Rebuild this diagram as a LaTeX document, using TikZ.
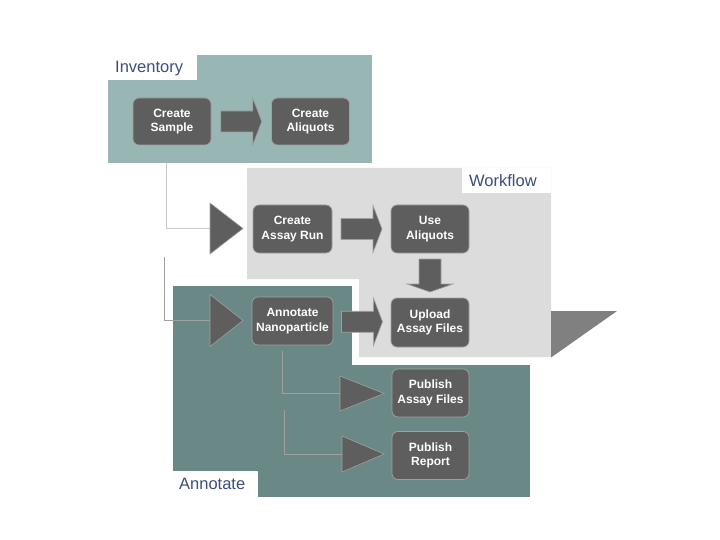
\documentclass[tikz,border=0pt]{standalone}
\usepackage{fontspec}
\setmainfont{Liberation Sans}
\usetikzlibrary{calc}
\definecolor{invteal}{RGB}{151,182,180}
\definecolor{annteal}{RGB}{106,137,134}
\definecolor{wfgray}{RGB}{220,220,220}
\definecolor{boxgray}{RGB}{94,94,94}
\definecolor{edgegray}{RGB}{160,160,160}
\definecolor{labelblue}{RGB}{60,78,126}
\definecolor{shadegray}{RGB}{128,128,128}
\definecolor{feedlight}{RGB}{200,200,200}
\tikzset{
  stepbox/.style={draw=edgegray, line width=0.7pt, fill=boxgray, rounded corners=6pt,
    minimum width=78pt, minimum height=47pt, inner sep=0pt, align=center,
    text=white, font=\bfseries\fontsize{12}{14.5}\selectfont},
  panellabel/.style={anchor=base west, inner sep=0pt, text=labelblue, font=\fontsize{16.5}{18}\selectfont},
  blockarr/.style={fill=boxgray, draw=edgegray, line width=0.6pt},
  tri/.style={fill=boxgray, draw=edgegray, line width=0.6pt},
  feed/.style={draw=edgegray, line width=0.8pt},
  pics/hbarrow/.style={code={\draw[blockarr] (-20.5,-10.5) -- (11.5,-10.5) -- (11.5,-23.5) -- (20.5,0) -- (11.5,23.5) -- (11.5,10.5) -- (-20.5,10.5) -- cycle;}},
  pics/vbarrow/.style={code={\draw[blockarr] (-16.5,-11) -- (8.5,-11) -- (8.5,-23) -- (16.5,0) -- (8.5,23) -- (8.5,11) -- (-16.5,11) -- cycle;}}
}
\begin{document}
\begin{tikzpicture}[x=1pt, y=-1pt]
\useasboundingbox[fill=white] (0,0) rectangle (720,540);
% Inventory panel
\fill[invteal] (108,55) rectangle (372,163);
\fill[white] (108,55) rectangle (197,80);
\node[panellabel] (invlabel) at (115,73) {Inventory};
% Annotate panel
\fill[annteal] (173,286) rectangle (530,497);
\fill[white] (173,471) rectangle (258,497);
\node[panellabel] (annlabel) at (179,489) {Annotate};
% Workflow panel
\fill[white] (352,279) rectangle (558,365);
\fill[wfgray] (247,168) -- (551,168) -- (551,357) -- (359,357) -- (359,279) -- (247,279) -- cycle;
\fill[shadegray] (551,311) -- (617,311) -- (551,357.5) -- cycle;
\fill[white] (462,168) rectangle (551,193);
\node[panellabel] (wflabel) at (469,187) {Workflow};
% feed lines and triangles
\coordinate (invtap) at (166,163);
\coordinate (tri1) at (210,228.5);
\coordinate (tap2) at (164,257);
\coordinate (tri2) at (210,320.5);
\draw[feed, draw=feedlight] (invtap) |- (tri1);
\draw[feed] (tap2) |- (tri2);
\draw[tri] (tri1) ++(0,-25.5) -- ++(33,25.5) -- ++(-33,25.5) -- cycle;
\draw[tri] (tri2) ++(0,-26) -- ++(33,26) -- ++(-33,26) -- cycle;
% step boxes
\node[stepbox] (cs) at (172,121.5) {Create\\Sample};
\node[stepbox] (ca) at (310.5,121.5) {Create\\Aliquots};
\node[stepbox, minimum width=79pt, minimum height=48pt] (car) at (292.5,229) {Create\\Assay Run};
\node[stepbox, minimum height=48pt] (ua) at (430,229) {Use\\Aliquots};
\node[stepbox, minimum width=81pt, minimum height=48pt] (an) at (292.5,321) {Annotate\\Nanoparticle};
\node[stepbox, minimum height=49pt] (up) at (430,322.5) {Upload\\Assay Files};
\node[stepbox, minimum width=77pt, minimum height=48pt] (pa) at (430.5,393) {Publish\\Assay Files};
\node[stepbox, minimum width=77pt, minimum height=48pt] (pr) at (430.5,455.5) {Publish\\Report};
% block arrows
\pic at ($(cs.east)!0.5!(ca.west)$) {hbarrow};
\pic at ($(car.east)!0.5!(ua.west)$) {hbarrow};
\pic at ($(an.east)!0.5!(up.west)$) {hbarrow};
\pic[rotate=-90] at ($(ua.south)!0.5!(up.north)$) {vbarrow};
% publish feeds
\coordinate (pt1) at (340,393.5);
\coordinate (pt2) at (342,454);
\draw[feed] ($(an.south)+(-10.5,6)$) |- (pt1);
\draw[feed] ($(an.south)+(-8.5,65)$) |- (pt2);
\draw[tri] (pt1) ++(0,-17.5) -- ++(44,17.5) -- ++(-44,17.5) -- cycle;
\draw[tri] (pt2) ++(0,-18) -- ++(42,18) -- ++(-42,18) -- cycle;
\end{tikzpicture}
\end{document}
